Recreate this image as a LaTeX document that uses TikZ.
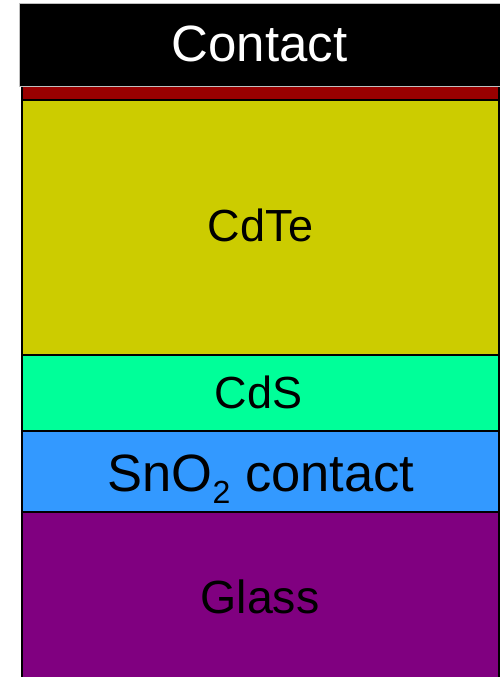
\documentclass[tikz,border=0pt]{standalone}
\usepackage{fontspec}
\setmainfont{Liberation Sans}
\definecolor{cdtecol}{RGB}{204,204,0}
\definecolor{cdscol}{RGB}{0,255,153}
\definecolor{sncol}{RGB}{51,153,255}
\definecolor{glasscol}{RGB}{128,0,128}
\definecolor{redcol}{RGB}{153,0,0}
\begin{document}
\begin{tikzpicture}[x=1pt,y=-1pt,
  layer/.style={draw=black,line width=2pt},
  lbl/.style={anchor=base,inner sep=0pt,font=\fontsize{45}{48}\selectfont,text=black}]
\useasboundingbox (0,0) rectangle (500,677);
\begin{scope}
\clip (0,0) rectangle (500,677);
\path[layer,fill=glasscol] (21.5,512) rectangle (498.5,690);
\path[layer,fill=sncol] (21.5,431) rectangle (498.5,512);
\path[layer,fill=cdscol] (21.5,355) rectangle (498.5,431);
\path[layer,fill=cdtecol] (21.5,100) rectangle (498.5,355);
\path[layer,fill=redcol] (21.5,86) rectangle (498.5,100);
\path[fill=black,draw=gray!50,line width=1pt] (19.5,3.5) rectangle (505,86.5);
\end{scope}
\node[lbl,font=\fontsize{51}{54}\selectfont,text=white] (contact) at (259.5,61.7) {Contact};
\node[lbl] (cdte) at (260.5,241.7) {CdTe};
\node[lbl] (cds) at (258.5,408.3) {CdS};
\node[lbl,font=\fontsize{52.5}{56}\selectfont] (sno) at (261,491.7) {SnO\raisebox{-11.5pt}{\fontsize{32}{34}\selectfont 2} contact};
\node[lbl,font=\fontsize{46.5}{50}\selectfont] (glass) at (260,613) {Glass};
\end{tikzpicture}
\end{document}
